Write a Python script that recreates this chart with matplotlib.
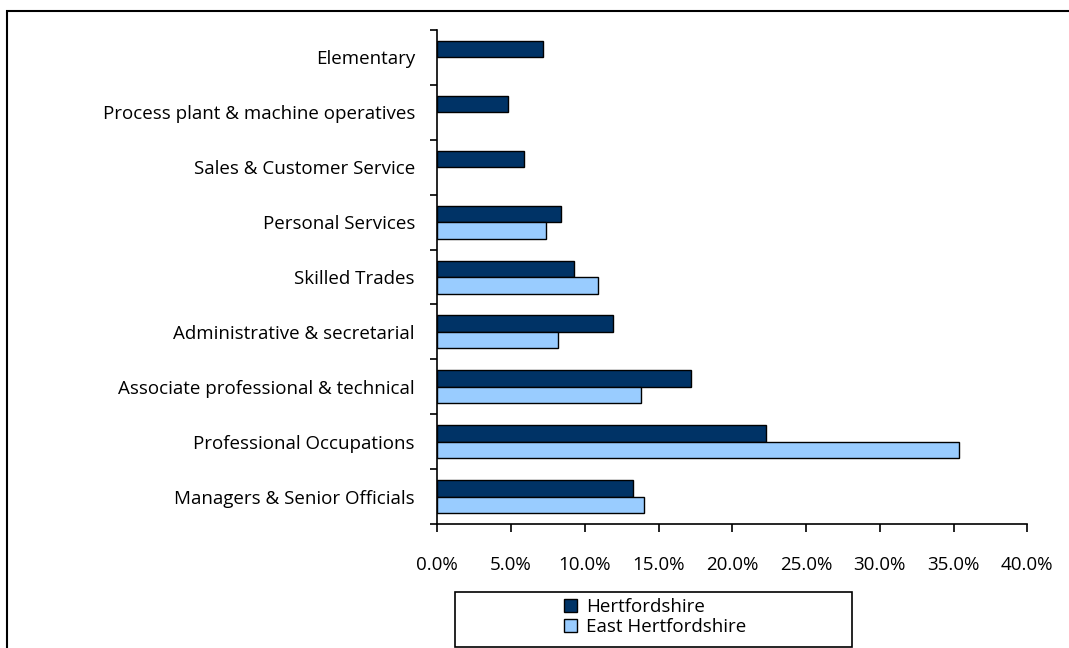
import numpy as np
import matplotlib.pyplot as plt
from matplotlib.patches import Rectangle, Patch

categories = ['Managers & Senior Officials', 'Professional Occupations',
              'Associate professional & technical', 'Administrative & secretarial',
              'Skilled Trades', 'Personal Services', 'Sales & Customer Service',
              'Process plant & machine operatives', 'Elementary']
herts = [13.3, 22.3, 17.2, 11.9, 9.3, 8.4, 5.9, 4.8, 7.2]
east_herts = [14.0, 35.4, 13.8, 8.2, 10.9, 7.4, 0, 0, 0]
series_names = ['Hertfordshire', 'East Hertfordshire']
xticks = np.arange(0, 41, 5)

plt.rcParams['font.family'] = ['Open Sans', 'DejaVu Sans']
fs = 13.5

fig = plt.figure(figsize=(10.69, 6.48), dpi=100)
ax = fig.add_axes([0.409, 0.191, 0.552, 0.763])

y = np.arange(len(categories))
h = 0.3
ax.barh(y + h / 2, herts, height=h, color='#003366', edgecolor='black', linewidth=1)
# no bar is drawn where the district has no value
e = np.array(east_herts)
keep = e > 0
ax.barh(y[keep] - h / 2, e[keep], height=h, color='#99ccff', edgecolor='black', linewidth=1)

ax.set_xlim(0, 40)
ax.set_ylim(-0.5, len(categories) - 0.5)
ax.set_xticks(xticks)
ax.set_xticklabels([f'{v:.1f}%' for v in xticks], fontsize=fs)
ax.set_yticks(y)
ax.set_yticklabels(categories, fontsize=fs)
ax.tick_params(axis='y', length=0, pad=16)
ax.set_yticks(np.arange(-0.5, len(categories), 1), minor=True)
ax.tick_params(axis='y', which='minor', length=5, width=1.2, direction='out')
ax.tick_params(axis='x', length=6, width=1.2, direction='out', pad=17)
for s in ['top', 'right']:
    ax.spines[s].set_visible(False)
for s in ['left', 'bottom']:
    ax.spines[s].set_linewidth(1.2)

# outer chart border
fig.patches.append(Rectangle((7 / 1069, -0.1), 1.2, 1 - 11 / 648 + 0.1,
                             transform=fig.transFigure, fill=False,
                             edgecolor='black', linewidth=1.5))
# legend box
fig.patches.append(Rectangle((455 / 1069, 1 - 647 / 648), 397 / 1069, 55 / 648,
                             transform=fig.transFigure, fill=False,
                             edgecolor='black', linewidth=1.2))
handles = [Patch(facecolor='#003366', edgecolor='black'),
           Patch(facecolor='#99ccff', edgecolor='black')]
fig.legend(handles, series_names, loc='center', bbox_to_anchor=(0.613, 1 - 617 / 648),
           frameon=False, fontsize=fs, handlelength=0.7, handleheight=0.7,
           handletextpad=0.5, labelspacing=0.1, borderpad=0)

fig.savefig('out.png', dpi=100)
